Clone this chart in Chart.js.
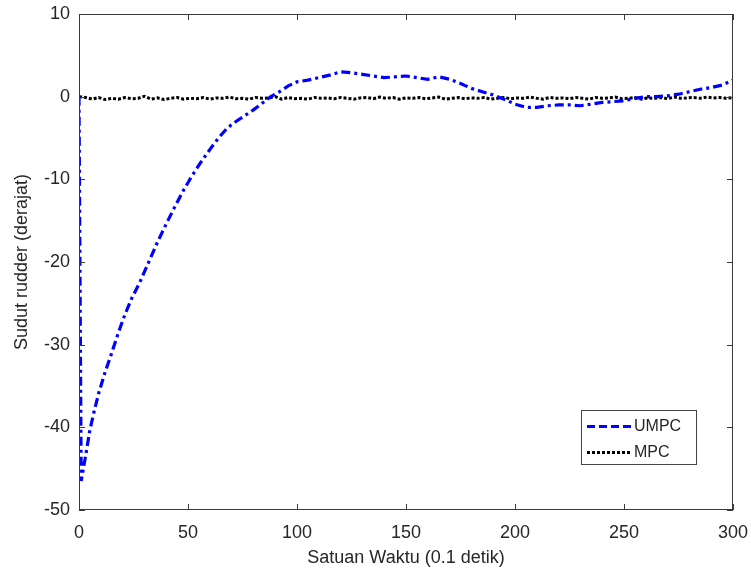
<!DOCTYPE html>
<html>
<head>
<meta charset="utf-8">
<script src="https://cdn.jsdelivr.net/npm/chart.js@4.4.0/dist/chart.umd.min.js"></script>
<style>
  html, body { margin: 0; padding: 0; background: #ffffff; }
  #wrap { width: 751px; height: 579px; position: relative; }
</style>
</head>
<body>
<div id="wrap"><canvas id="c" width="751" height="579"></canvas></div>
<script>
// ---- data ----
const umpcTime = [0,1,2,3,5,7,9,12,15,18,21,24,28,32,36,40,44,48,52,56,60,64,68,72,76,80,84,88,92,96,100,105,110,115,120,125,130,135,140,145,150,155,160,165,170,175,180,185,190,195,200,205,210,215,220,225,230,235,240,245,250,255,260,265,270,275,280,285,290,295,300];
const umpcValues = [0,-46.5,-45,-43.5,-40.3,-38,-35.9,-33.3,-31,-28.6,-26.4,-24.5,-22.4,-20,-17.6,-15.4,-13.3,-11.3,-9.5,-7.9,-6.4,-5,-3.8,-3.0,-2.3,-1.6,-0.8,0,0.6,1.3,1.8,2.0,2.3,2.6,3.0,2.9,2.7,2.5,2.3,2.4,2.5,2.3,2.1,2.4,2.1,1.6,1.0,0.6,0.2,-0.3,-0.9,-1.3,-1.3,-1.1,-1.0,-1.0,-1.1,-0.9,-0.7,-0.6,-0.5,-0.2,0,0,0.1,0.3,0.6,0.9,1.1,1.4,2.0];
const mpcStep = 3;
const mpcValues = [
  0,-0.1,-0.3,-0.1,-0.35,-0.2,-0.3,-0.1,-0.25,-0.2,
  0.05,-0.3,-0.15,-0.35,-0.2,-0.1,-0.3,-0.2,-0.25,-0.1,
  -0.3,-0.15,-0.2,-0.05,-0.25,-0.2,-0.3,-0.1,-0.2,-0.15,
  0.0,-0.3,-0.1,-0.25,-0.2,-0.3,-0.1,-0.2,-0.15,-0.25,
  -0.1,-0.2,-0.3,-0.15,-0.1,-0.25,-0.05,-0.2,-0.1,-0.3,
  -0.15,-0.2,-0.1,-0.25,-0.15,-0.05,-0.3,-0.2,-0.1,-0.25,
  -0.15,-0.2,-0.1,-0.3,-0.2,-0.1,-0.25,-0.15,-0.2,-0.05,
  -0.2,-0.3,-0.1,-0.2,-0.15,-0.25,-0.1,-0.2,-0.3,-0.1,
  -0.2,-0.15,-0.05,-0.25,-0.2,-0.1,-0.3,-0.15,-0.2,-0.1,
  -0.25,-0.05,-0.2,-0.15,-0.1,-0.2,-0.05,-0.15,-0.1,-0.2,
  -0.1
];
const seriesNames = ['UMPC', 'MPC'];
const xTitle = 'Satuan Waktu (0.1 detik)';
const yTitle = 'Sudut rudder (derajat)';
const xRange = [0, 300];
const yRange = [-50, 10];
const xStep = 50;
const yStep = 10;

// ---- build points ----
const umpcPts = umpcTime.map((t, i) => ({ x: t, y: umpcValues[i] }));
const mpcPts = mpcValues.map((v, i) => ({ x: i * mpcStep, y: v }));

const FONT = 'Liberation Sans, Arial, Helvetica, sans-serif';
const AX = '#3a3a3a';
const TXT = '#262626';

const frame = {
  id: 'frame',
  afterDatasetsDraw(chart) {
    const { ctx, chartArea: a, scales } = chart;
    ctx.save();
    ctx.strokeStyle = AX;
    ctx.lineWidth = 1;
    ctx.strokeRect(Math.round(a.left) + 0.5, Math.round(a.top) + 0.5,
                   Math.round(a.right - a.left) - 1, Math.round(a.bottom - a.top) - 1);
    const tl = 6;
    scales.x.ticks.forEach(t => {
      const px = Math.round(scales.x.getPixelForValue(t.value)) + 0.5;
      ctx.beginPath();
      ctx.moveTo(px, a.bottom); ctx.lineTo(px, a.bottom - tl);
      ctx.moveTo(px, a.top); ctx.lineTo(px, a.top + tl);
      ctx.stroke();
    });
    scales.y.ticks.forEach(t => {
      const py = Math.round(scales.y.getPixelForValue(t.value)) + 0.5;
      ctx.beginPath();
      ctx.moveTo(a.left, py); ctx.lineTo(a.left + tl, py);
      ctx.moveTo(a.right, py); ctx.lineTo(a.right - tl, py);
      ctx.stroke();
    });
    // legend box
    const lx = 581, ly = 410, lw = 116, lh = 55;
    ctx.fillStyle = '#ffffff';
    ctx.fillRect(lx, ly, lw, lh);
    ctx.strokeStyle = '#444';
    ctx.strokeRect(lx + 0.5, ly + 0.5, lw - 1, lh - 1);
    const rows = [ly + 16, ly + 42];
    chart.data.datasets.forEach((ds, i) => {
      const y = rows[i] + 0.5;
      ctx.save();
      ctx.strokeStyle = ds.borderColor;
      ctx.lineWidth = ds.borderWidth;
      ctx.setLineDash(i === 0 ? [8, 4] : [3, 2]);
      ctx.beginPath();
      ctx.moveTo(lx + 6, y); ctx.lineTo(lx + 51, y);
      ctx.stroke();
      ctx.restore();
      ctx.fillStyle = TXT;
      ctx.font = '16px ' + FONT;
      ctx.textBaseline = 'middle';
      ctx.textAlign = 'left';
      ctx.fillText(ds.label, lx + 53, y);
    });
    ctx.restore();
  }
};

new Chart(document.getElementById('c'), {
  type: 'line',
  data: {
    datasets: [
      { label: seriesNames[0], data: umpcPts, borderColor: '#0000ff', borderWidth: 3.2,
        borderDash: [9, 4, 3, 4], pointRadius: 0, tension: 0, fill: false },
      { label: seriesNames[1], data: mpcPts, borderColor: '#000000', borderWidth: 3,
        borderDash: [3, 2], pointRadius: 0, tension: 0, fill: false }
    ]
  },
  options: {
    responsive: false,
    animation: false,
    events: [],
    layout: { padding: { top: 14, right: 18, left: 0, bottom: 0 } },
    plugins: { legend: { display: false }, tooltip: { enabled: false } },
    scales: {
      x: {
        type: 'linear', min: xRange[0], max: xRange[1],
        grid: { display: false }, border: { display: false },
        ticks: { stepSize: xStep, color: TXT, font: { family: FONT, size: 18 }, padding: 4, maxRotation: 0 },
        title: { display: true, text: xTitle, color: TXT, font: { family: FONT, size: 18 }, padding: { top: 0, bottom: 10 } },
        afterFit(s) { s.height = 69; s.paddingLeft = 0; s.paddingRight = 0; }
      },
      y: {
        type: 'linear', min: yRange[0], max: yRange[1],
        grid: { display: false }, border: { display: false },
        ticks: { stepSize: yStep, color: TXT, font: { family: FONT, size: 18 }, padding: 1 },
        title: { display: true, text: yTitle, color: TXT, font: { family: FONT, size: 18 }, padding: { top: 11, bottom: 0 } },
        afterFit(s) { s.width = 79; s.paddingTop = 0; s.paddingBottom = 0; }
      }
    }
  },
  plugins: [frame]
});
</script>
</body>
</html>
